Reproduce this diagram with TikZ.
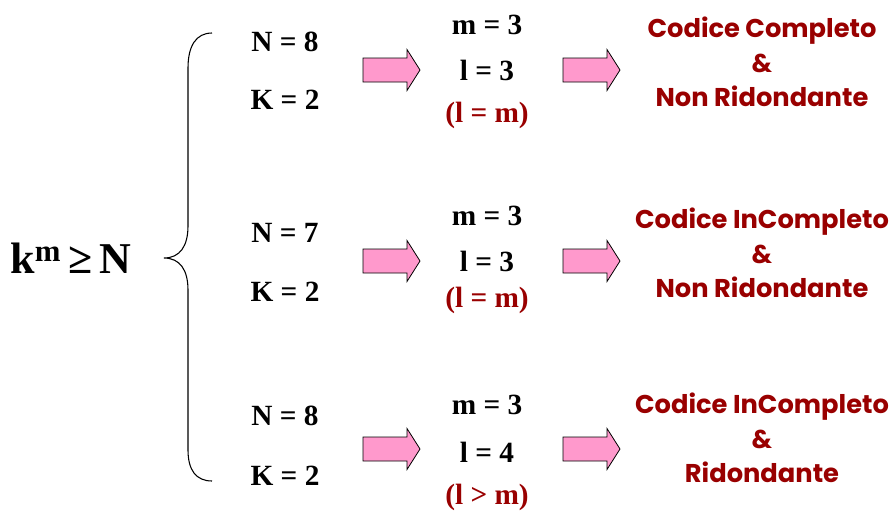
\documentclass[tikz,border=0pt]{standalone}
\usepackage{fontspec}
\setmainfont{Liberation Serif}
\newfontfamily\redfont{Poppins}
\definecolor{darkred}{HTML}{990000}
\definecolor{pinkfill}{HTML}{FF99CC}
\begin{document}
\begin{tikzpicture}[x=0.75pt,y=-0.75pt,
  lab/.style={font=\fontsize{22}{24}\selectfont\bfseries, inner sep=0pt, anchor=center},
  rlab/.style={font=\fontsize{22}{24}\selectfont\bfseries, text=darkred, inner sep=0pt},
  res/.style={font=\fontsize{19.3}{26}\selectfont\redfont\bfseries, text=darkred, align=center, inner sep=0pt},
  parrow/.style={fill=pinkfill, draw=black, line width=0.6pt, line join=miter}]
\useasboundingbox (0,0) rectangle (894,512);
% brace
\draw[line width=0.8pt] (212,33) .. controls (196,33) and (188,46) .. (188,68) -- (188,226)
  .. controls (188,246) and (180,258) .. (164,258)
  .. controls (180,258) and (188,270) .. (188,290) -- (188,450)
  .. controls (188,470) and (196,481) .. (212,481);
\node (km) at (71,258) {\fontsize{33}{36}\selectfont\bfseries k\textsuperscript{m}\,≥\,N};
% row 1
\node[lab] (n1) at (285,42) {N = 8};
\node[lab] (k1) at (285,100) {K = 2};
\node[lab] (m1) at (487,25) {m = 3};
\node[lab] (l1) at (487,70) {l = 3};
\node[rlab] (c1) at (487,115) {(l = m)};
\node[res] (r1) at (762,62) {Codice Completo\\\&\\Non Ridondante};
% row 2
\node[lab] (n2) at (285,233) {N = 7};
\node[lab] (k2) at (285,292) {K = 2};
\node[lab] (m2) at (487,216) {m = 3};
\node[lab] (l2) at (487,261) {l = 3};
\node[rlab] (c2) at (487,300) {(l = m)};
\node[res] (r2) at (762,253) {Codice InCompleto\\\&\\Non Ridondante};
% row 3
\node[lab] (n3) at (285,416) {N = 8};
\node[lab] (k3) at (285,476) {K = 2};
\node[lab] (m3) at (487,405) {m = 3};
\node[lab] (l3) at (487,452) {l = 4};
\node[rlab] (c3) at (487,497) {(l > m)};
\node[res] (r3) at (762,438) {Codice InCompleto\\\&\\Ridondante};
% arrows
\foreach \yy in {70,261,449} {
  \draw[parrow] (363,\yy-12) -- (407,\yy-12) -- (407,\yy-20.5) -- (420,\yy) -- (407,\yy+20.5) -- (407,\yy+12) -- (363,\yy+12) -- cycle;
  \draw[parrow] (563,\yy-12) -- (607,\yy-12) -- (607,\yy-20.5) -- (620,\yy) -- (607,\yy+20.5) -- (607,\yy+12) -- (563,\yy+12) -- cycle;
}
\end{tikzpicture}
\end{document}
